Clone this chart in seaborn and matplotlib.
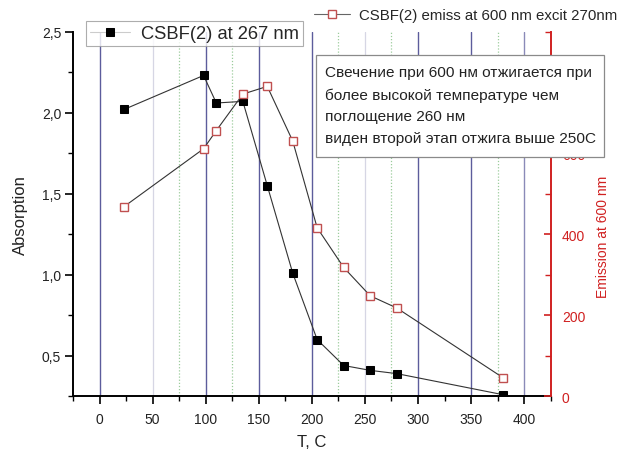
import numpy as np
import pandas as pd
import matplotlib
matplotlib.use("Agg")
import matplotlib.pyplot as plt
from matplotlib.ticker import MultipleLocator, FuncFormatter
from matplotlib.patches import Rectangle
import seaborn as sns

# ---- data ----
temp = [23, 98, 110, 135, 158, 182, 205, 230, 255, 280, 380]
absorption = [2.02, 2.23, 2.06, 2.07, 1.55, 1.01, 0.60, 0.44, 0.41, 0.39, 0.26]
emission = [468, 611, 656, 746, 765, 630, 416, 318, 248, 218, 46]

abs_label = "CSBF(2) at 267 nm"
em_label = "CSBF(2) emiss at 600 nm excit 270nm"
note = ("Свечение при 600 нм отжигается при\n"
        "более высокой температуре чем\n"
        "поглощение 260 нм\n"
        "виден второй этап отжига выше 250С")

dark_grid = [0, 100, 150, 200, 300, 350]
light_grid = [50, 250]
mid_grid = [400]
green_grid = [75, 125, 225, 275, 375]

sns.set_theme(style="white")
plt.rcParams["font.family"] = ["Liberation Sans", "DejaVu Sans"]

df = pd.DataFrame({"T": temp, "A": absorption, "E": emission})

fig = plt.figure(figsize=(6.22, 4.52), dpi=100)
ax = fig.add_axes([73 / 622, 1 - 397.3 / 452, (550.7 - 73) / 622, (397.3 - 32.7) / 452])

# grid lines
for g in dark_grid:
    ax.axvline(g, color="#5c5c9c", lw=1.0, zorder=0)
for g in light_grid:
    ax.axvline(g, color="#d6d6e4", lw=0.9, zorder=0)
for g in mid_grid:
    ax.axvline(g, color="#8a8ab8", lw=1.0, zorder=0)
for g in green_grid:
    ax.axvline(g, color="#9ccc9c", lw=0.9, ls=(0, (1, 1.5)), zorder=0)

sns.lineplot(data=df, x="T", y="A", ax=ax, color="#333333", lw=0.8,
             marker="s", markersize=5.5, markerfacecolor="black",
             markeredgecolor="black", sort=False, estimator=None,
             label=abs_label, legend=False, zorder=3)

ax2 = ax.twinx()
sns.lineplot(data=df, x="T", y="E", ax=ax2, color="#333333", lw=0.8,
             marker="s", markersize=6.2, markerfacecolor="white",
             markeredgecolor="#c05050", markeredgewidth=1.0, sort=False,
             estimator=None, label=em_label, legend=False, zorder=3)

ax.set_xlim(-25, 425)
ax.set_ylim(0.25, 2.5)
ax2.set_ylim(0, 900)

ax.xaxis.set_major_locator(MultipleLocator(50))
ax.xaxis.set_minor_locator(MultipleLocator(25))
ax.yaxis.set_major_locator(MultipleLocator(0.5))
ax.yaxis.set_minor_locator(MultipleLocator(0.25))
ax.yaxis.set_major_formatter(FuncFormatter(lambda v, p: f"{v:.1f}".replace(".", ",")))
ax2.yaxis.set_major_locator(MultipleLocator(200))
ax2.yaxis.set_minor_locator(MultipleLocator(100))

for a in (ax, ax2):
    a.spines["top"].set_visible(False)
ax.spines["right"].set_visible(False)
ax2.spines["left"].set_visible(False)
ax2.spines["bottom"].set_visible(False)
ax.spines["left"].set_color("black")
ax.spines["bottom"].set_color("black")
ax.spines["left"].set_linewidth(1.4)
ax.spines["bottom"].set_linewidth(1.4)
ax2.spines["right"].set_color("#d02020")
ax2.spines["right"].set_linewidth(1.4)

ax.tick_params(axis="both", which="major", direction="out", length=5.5, width=1.2,
               color="black", labelsize=10, labelcolor="#222222",
               left=True, bottom=True, pad=3)
ax.tick_params(axis="both", which="minor", direction="out", length=3.5, width=1.0,
               color="black", left=True, bottom=True)
ax.tick_params(axis="x", which="major", pad=6)
ax2.tick_params(axis="y", which="major", direction="in", length=5, width=1.2,
                color="#d02020", labelcolor="#d02020", labelsize=10, right=True, pad=8)
ax2.tick_params(axis="y", which="minor", direction="in", length=4, width=1.0,
                color="#d02020", right=True)

ax.set_xlabel("T, C", fontsize=12, color="#222222")
ax.set_ylabel("Absorption", fontsize=12, color="#222222", labelpad=10)
ax2.set_ylabel("Emission at 600 nm", fontsize=10, color="#d02020")
ax2.yaxis.set_label_coords(1.095, 0.44)
ax.xaxis.set_label_coords(0.5, -0.104)

# legends
h1, l1 = ax.get_legend_handles_labels()
leg1 = fig.legend(h1, l1, loc="upper left", bbox_to_anchor=(86 / 622, 1 - 22 / 452),
                  frameon=True, fancybox=False, fontsize=13.2, handlelength=2.2,
                  borderpad=0.22, handletextpad=0.6, borderaxespad=0)
leg1.get_frame().set_edgecolor("#999999")
leg1.get_frame().set_linewidth(0.8)
for ln in leg1.get_lines():
    ln.set_color("#cccccc")
    ln.set_markerfacecolor("black")
    ln.set_markeredgecolor("black")

h2, l2 = ax2.get_legend_handles_labels()
leg2 = fig.legend(h2, l2, loc="upper left", bbox_to_anchor=(314 / 622, 1 - 9 / 452),
                  frameon=False, fontsize=10.8, handlelength=2.4,
                  borderpad=0, handletextpad=0.6, borderaxespad=0)
for ln in leg2.get_lines():
    ln.set_color("#666666")
    ln.set_markersize(6)

# annotation box
rect = Rectangle((315.7 / 622, 1 - 157.7 / 452), (604 - 315.7) / 622, (157.7 - 56) / 452,
                 transform=fig.transFigure, facecolor="white", edgecolor="#8a8a8a",
                 lw=0.9, zorder=20)
fig.add_artist(rect)
fig.text(325 / 622, 1 - 66.5 / 452, note, ha="left", va="top", fontsize=11.1,
         color="#222222", linespacing=1.68, zorder=21)

fig.savefig("out.png", dpi=100)
